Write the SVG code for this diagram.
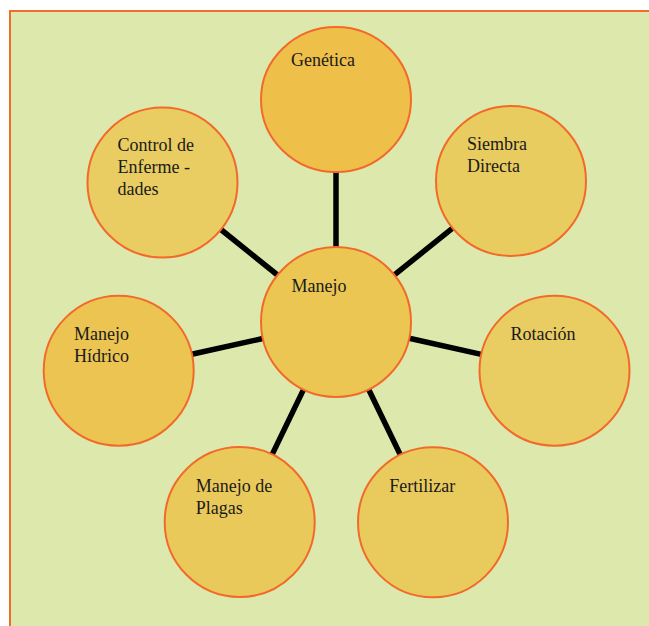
<svg xmlns="http://www.w3.org/2000/svg" width="649" height="626" viewBox="0 0 649 626">
<style>
.bg{fill:#DDE8AD;stroke:#F26B2F;stroke-width:2}
.n{stroke:#F26A2A;stroke-width:2}
.c{stroke:#000;stroke-width:5.5;stroke-linecap:butt}
.t{font-family:'Liberation Serif',serif;font-size:18px;fill:#1a1a1a}
</style>
<rect class="bg" x="10" y="11" width="650" height="630"/>
<g id="connectors">
<line class="c" x1="336" y1="172" x2="336" y2="247"/>
<line class="c" x1="394.4" y1="274.9" x2="452.6" y2="228.1"/>
<line class="c" x1="277.5" y1="275" x2="220.9" y2="229.5"/>
<line class="c" x1="262.9" y1="338.5" x2="191.8" y2="354.2"/>
<line class="c" x1="409.2" y1="338.3" x2="481.3" y2="354.4"/>
<line class="c" x1="303.5" y1="389.6" x2="272.2" y2="454.4"/>
<line class="c" x1="368.7" y1="389.5" x2="400.3" y2="454.8"/>
</g>
<g id="genetica">
<ellipse class="n" cx="336" cy="99.5" rx="75" ry="72.5" fill="#EEC04A"/>
<text class="t" x="291" y="66">Genética</text>
</g>
<g id="siembra">
<circle class="n" cx="511" cy="181" r="75" fill="#E9CC60"/>
<text class="t" x="467" y="150">Siembra</text>
<text class="t" x="467" y="172">Directa</text>
</g>
<g id="control">
<circle class="n" cx="162.5" cy="182.5" r="75" fill="#E9CD62"/>
<text class="t" x="117.5" y="151">Control de</text>
<text class="t" x="117.5" y="173">Enferme -</text>
<text class="t" x="117.5" y="194.5">dades</text>
</g>
<g id="manejo">
<circle class="n" cx="336" cy="322" r="75" fill="#EBC652"/>
<text class="t" x="291.5" y="292">Manejo</text>
</g>
<g id="hidrico">
<circle class="n" cx="118.7" cy="370.7" r="75" fill="#ECC451"/>
<text class="t" x="74" y="340">Manejo</text>
<text class="t" x="74" y="362">Hídrico</text>
</g>
<g id="rotacion">
<circle class="n" cx="554.5" cy="370.7" r="75" fill="#E9CC62"/>
<text class="t" x="510.5" y="340">Rotación</text>
</g>
<g id="plagas">
<circle class="n" cx="239.7" cy="522" r="75" fill="#EAC95B"/>
<text class="t" x="195.7" y="491.5">Manejo de</text>
<text class="t" x="195.7" y="513.5">Plagas</text>
</g>
<g id="fertilizar">
<circle class="n" cx="433" cy="522.3" r="75" fill="#E9CB5D"/>
<text class="t" x="389.3" y="492">Fertilizar</text>
</g>
</svg>
